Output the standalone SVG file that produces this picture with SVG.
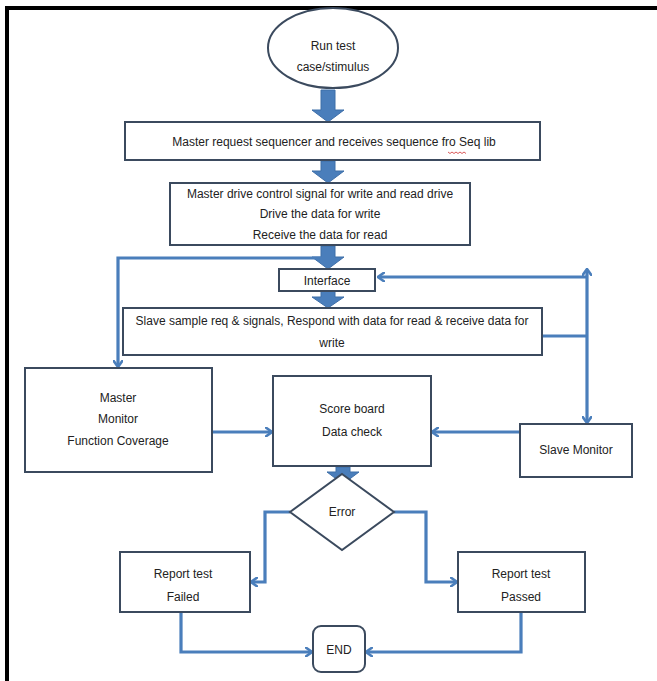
<svg xmlns="http://www.w3.org/2000/svg" width="657" height="681" viewBox="0 0 657 681">
<defs>
<style>
.box{fill:#fff;stroke:#3b4a5e;stroke-width:2}
.t{font-family:"Liberation Sans",Arial,sans-serif;font-size:12px;fill:#222;text-anchor:middle}
.ln{fill:none;stroke:#4a7ebb;stroke-width:3.2}
.blk{fill:#4a7ebb;stroke:#3d6ea8;stroke-width:1}
</style>
<marker id="ah" markerWidth="8" markerHeight="10" refX="6" refY="5" orient="auto" markerUnits="userSpaceOnUse">
<path d="M0,0 L7,5 L0,10" fill="none" stroke="#4a7ebb" stroke-width="2.6"/>
</marker>
</defs>
<rect x="0" y="0" width="657" height="681" fill="#fff"/>
<rect x="5" y="6" width="652" height="4" fill="#000"/>
<rect x="5" y="6" width="4" height="675" fill="#000"/>

<g id="connectors">
<path class="blk" d="M321,90 H335 V110 H344 L328,122 L312,110 H321 Z"/>
<path class="blk" d="M321,161 H335 V171 H344 L328,183 L312,171 H321 Z"/>
<path class="blk" d="M321,246 H335 V257 H344 L328,269 L312,257 H321 Z"/>
<path class="blk" d="M321,291 H335 V297 H344 L328,308 L312,297 H321 Z"/>
<path class="blk" d="M336,467 H350 V472 H359 L343,484 L327,472 H336 Z"/>
<path class="ln" d="M322,258 H118 V366" marker-end="url(#ah)"/>
<path class="ln" d="M542,336 H587"/>
<path class="ln" d="M587,336 V422" marker-end="url(#ah)"/>
<path class="ln" d="M587,336 V270" marker-end="url(#ah)"/>
<path class="ln" d="M587,277 H379" marker-end="url(#ah)"/>
<path class="ln" d="M212,432 H271" marker-end="url(#ah)"/>
<path class="ln" d="M520,432 H433" marker-end="url(#ah)"/>
<path class="ln" d="M290,512 H265 V582 H252" marker-end="url(#ah)"/>
<path class="ln" d="M394,512 H426 V582 H456" marker-end="url(#ah)"/>
<path class="ln" d="M181,612 V652 H311" marker-end="url(#ah)"/>
<path class="ln" d="M521,612 V652 H367" marker-end="url(#ah)"/>
</g>

<g id="start">
<ellipse cx="333" cy="48" rx="65" ry="40" fill="#fff" stroke="#3b4a5e" stroke-width="2"/>
<text class="t" x="333" y="50">Run test</text>
<text class="t" x="333" y="71">case/stimulus</text>
</g>

<g id="seq">
<rect class="box" x="125" y="122" width="415" height="38"/>
<text class="t" x="334" y="146">Master request sequencer and receives sequence fro Seq lib</text>
<path d="M448,152 l2,1.5 l2,-1.5 l2,1.5 l2,-1.5 l2,1.5 l2,-1.5 l2,1.5 l2,-1.5 l2,1.5" fill="none" stroke="#d03030" stroke-width="0.8"/>
</g>

<g id="drive">
<rect class="box" x="170" y="183" width="300" height="62"/>
<text class="t" x="320" y="198">Master drive control signal for write and read drive</text>
<text class="t" x="320" y="218">Drive the  data for write</text>
<text class="t" x="320" y="239">Receive the data for read</text>
</g>

<g id="interface">
<rect class="box" x="279" y="269" width="96" height="22"/>
<text class="t" x="327" y="285">Interface</text>
</g>

<g id="slave">
<rect class="box" x="123" y="308" width="419" height="47"/>
<text class="t" x="332" y="325">Slave sample req &amp; signals, Respond with data for read &amp; receive data for</text>
<text class="t" x="332" y="347">write</text>
</g>

<g id="master-monitor">
<rect class="box" x="25" y="368" width="187" height="104"/>
<text class="t" x="118" y="402">Master</text>
<text class="t" x="118" y="423">Monitor</text>
<text class="t" x="118" y="445">Function Coverage</text>
</g>

<g id="scoreboard">
<rect class="box" x="273" y="376" width="158" height="90"/>
<text class="t" x="352" y="413">Score board</text>
<text class="t" x="352" y="436">Data check</text>
</g>

<g id="slave-monitor">
<rect class="box" x="520" y="424" width="112" height="53"/>
<text class="t" x="576" y="454">Slave Monitor</text>
</g>

<g id="error">
<path d="M342,474 L394,512 L342,550 L290,512 Z" fill="#fff" stroke="#3b4a5e" stroke-width="2"/>
<text class="t" x="342" y="516">Error</text>
</g>

<g id="failed">
<rect class="box" x="120" y="552" width="130" height="60"/>
<text class="t" x="183" y="578">Report test</text>
<text class="t" x="183" y="601">Failed</text>
</g>

<g id="passed">
<rect class="box" x="458" y="552" width="127" height="60"/>
<text class="t" x="521" y="578">Report test</text>
<text class="t" x="521" y="601">Passed</text>
</g>

<g id="end">
<rect class="box" x="313" y="626" width="52" height="46" rx="8"/>
<text class="t" x="339" y="654">END</text>
</g>
</svg>
